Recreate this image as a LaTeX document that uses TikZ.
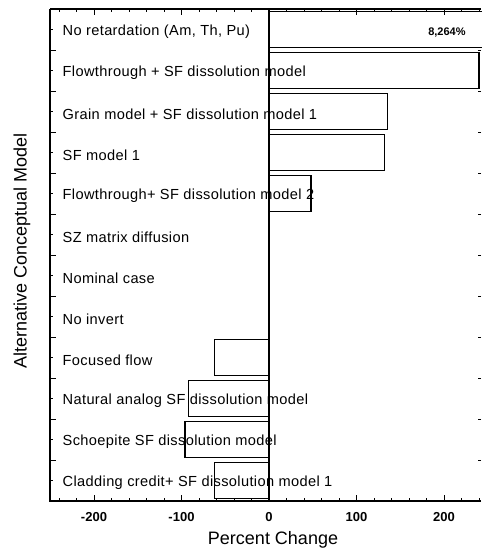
\documentclass[tikz,border=0pt]{standalone}
\usepackage{fontspec}
\setmainfont{Liberation Sans}
\newfontfamily\labelfont[LetterSpace=2.5]{Liberation Sans}
\usepackage{tikz}

\begin{document}
\begin{tikzpicture}[
    x=0.875pt, y=-41pt,
    frame/.style={line width=1.8pt},
    topline/.style={line width=1.2pt},
    bar/.style={draw, line width=1.1pt},
    modellabel/.style={anchor=west, inner sep=0pt, font=\labelfont\fontsize{14.6}{17}\selectfont},
    ticklabel/.style={inner sep=0pt, font=\fontsize{13}{15}\selectfont\bfseries},
    axistitle/.style={inner sep=0pt, font=\fontsize{18}{21}\selectfont}
]
\useasboundingbox (-307.43,-0.7195) rectangle (242.29,12.744);

% Model labels
\foreach \name [count=\i from 0] in {{No retardation (Am, Th, Pu)}, {Flowthrough + SF dissolution model},
    {Grain model + SF dissolution model 1}, {SF model 1}, {Flowthrough+ SF dissolution model 2},
    {SZ matrix diffusion}, {Nominal case}, {No invert}, {Focused flow},
    {Natural analog SF dissolution model}, {Schoepite SF dissolution model},
    {Cladding credit+ SF dissolution model 1}}
  \node[modellabel] (lab\i) at (-236,\i+0.06) {\name};

% Bars
\foreach \i/\v in {0/260, 1/240, 2/135, 3/132, 4/48, 8/-62, 9/-92, 10/-96, 11/-62}
  \draw[bar] (0,\i-0.43) rectangle (\v,\i+0.43);
\draw[bar] (0,-0.5) -- (0,11.5);

\node[font=\fontsize{11}{13}\selectfont\bfseries] (offscale) at (203.4,0.08) {8,264\%};

% Axes
\draw[frame] (-250,-0.5) -- (-250,11.5) -- (242.29,11.5);
\draw[topline] (-250,-0.5) -- (242.29,-0.5);

% Ticks
\foreach \x in {-240,-220,...,240} {
  \draw[thick] (\x,11.5) -- ++(0pt,3.5pt);
  \draw[thick] (\x,-0.5) -- ++(0pt,-3.5pt);
}
\foreach \x in {-200,-100,...,200} {
  \draw[thick] (\x,11.5) -- ++(0pt,6.5pt);
  \draw[thick] (\x,-0.5) -- ++(0pt,-6.5pt);
  \node[ticklabel] (tick\x) at (\x,11.89) {\x};
}
\foreach \i in {0,...,11} {
  \draw[thick] (-250,\i) -- ++(3pt,0pt);
  \draw[thick] (-250,\i+0.5) -- ++(6pt,0pt);
  \draw (242.29,\i+0.5) -- ++(-3pt,0pt);
}

% Titles
\node[axistitle, rotate=90] (ytitle) at (-282.3,5.4) {Alternative Conceptual Model};
\node[axistitle] (xtitle) at (4.6,12.45) {Percent Change};

\end{tikzpicture}
\end{document}
